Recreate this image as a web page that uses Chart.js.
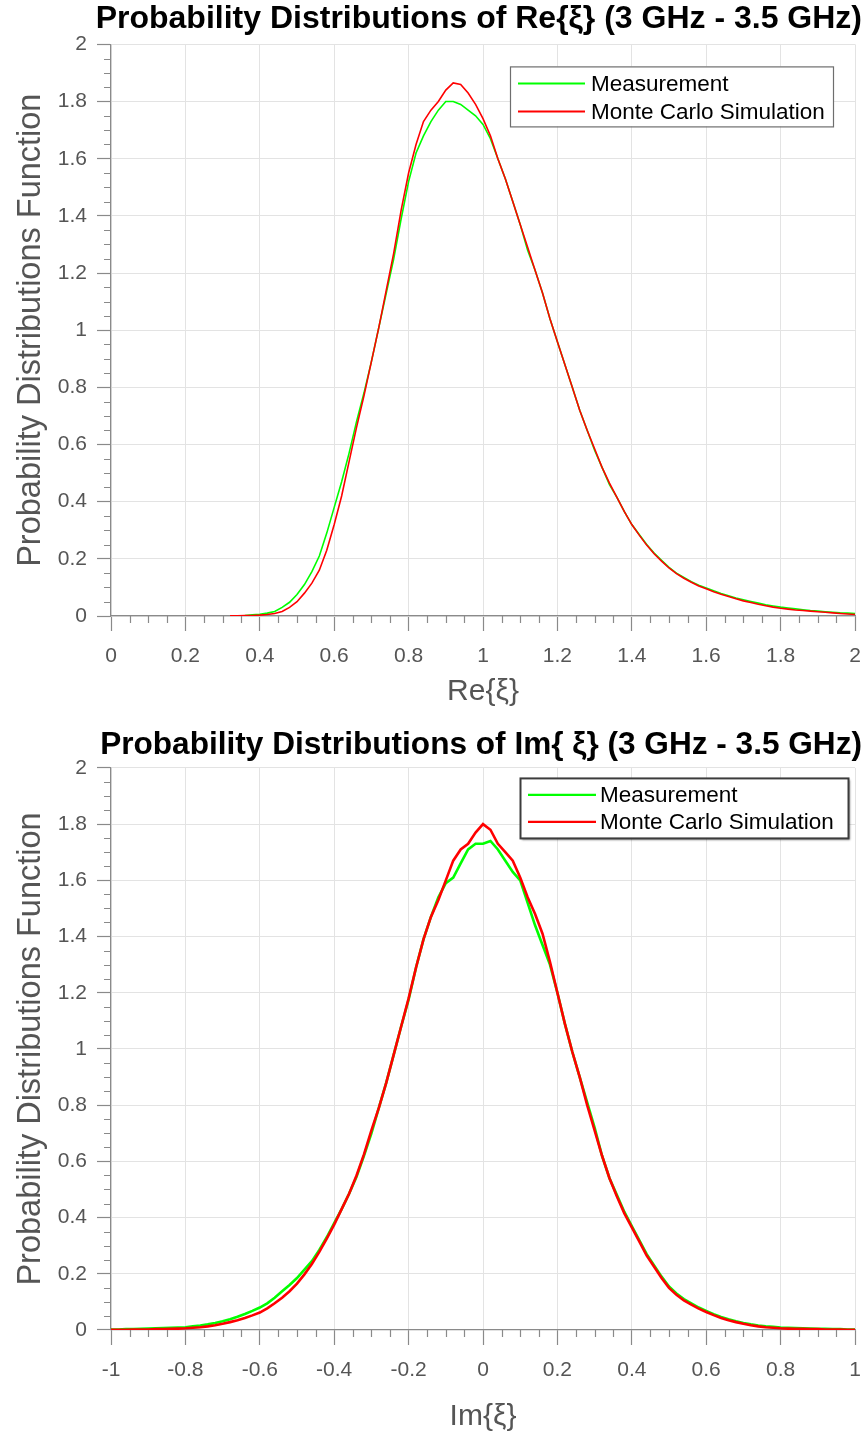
<!DOCTYPE html>
<html>
<head>
<meta charset="utf-8">
<script src="https://cdn.jsdelivr.net/npm/chart.js@4.4.1/dist/chart.umd.min.js"></script>
<style>
  html, body { margin: 0; padding: 0; background: #ffffff; }
  .wrap { width: 867px; position: relative; }
  canvas { display: block; }
</style>
</head>
<body>
<div class="wrap"><canvas id="reChart" width="867" height="718"></canvas></div>
<div class="wrap"><canvas id="imChart" width="867" height="719"></canvas></div>
<script>
// ---------- Data ----------
const seriesLabels = ['Measurement', 'Monte Carlo Simulation'];

// Re{xi}: x grid and the two density curves
const reX = [
  0.32,0.34,0.36,0.38,0.40,0.42,0.44,0.46,0.48,0.50,
  0.52,0.54,0.56,0.58,0.60,0.62,0.64,0.66,0.68,0.70,
  0.72,0.74,0.76,0.78,0.80,0.82,0.84,0.86,0.88,0.90,
  0.92,0.94,0.96,0.98,1.00,1.02,1.04,1.06,1.08,1.10,
  1.12,1.14,1.16,1.18,1.20,1.22,1.24,1.26,1.28,1.30,
  1.32,1.34,1.36,1.38,1.40,1.42,1.44,1.46,1.48,1.50,
  1.52,1.54,1.56,1.58,1.60,1.62,1.64,1.66,1.68,1.70,
  1.72,1.74,1.76,1.78,1.80,1.82,1.84,1.86,1.88,1.90,
  1.92,1.94,1.96,1.98,2.00
];
const reMeasurement = [
  null,null,0.002,0.004,0.006,0.010,0.016,0.030,0.048,0.075,
  0.110,0.155,0.210,0.290,0.380,0.470,0.570,0.680,0.780,0.890,
  1.010,1.130,1.250,1.390,1.520,1.620,1.680,1.730,1.770,1.800,
  1.800,1.790,1.770,1.750,1.720,1.670,1.600,1.530,1.450,1.370,
  1.280,1.210,1.130,1.040,0.960,0.880,0.800,0.720,0.650,0.580,
  0.520,0.460,0.415,0.365,0.320,0.285,0.250,0.220,0.195,0.170,
  0.150,0.135,0.120,0.108,0.098,0.088,0.079,0.071,0.063,0.057,
  0.051,0.045,0.039,0.035,0.031,0.028,0.025,0.022,0.019,0.017,
  0.015,0.013,0.011,0.010,0.009
];
const reSimulation = [
  0.001,0.001,0.002,0.002,0.003,0.005,0.009,0.016,0.030,0.050,
  0.080,0.115,0.160,0.230,0.320,0.420,0.540,0.660,0.770,0.890,
  1.010,1.140,1.270,1.420,1.550,1.650,1.730,1.770,1.800,1.840,
  1.865,1.860,1.830,1.790,1.740,1.680,1.600,1.530,1.450,1.370,
  1.290,1.210,1.130,1.040,0.960,0.880,0.800,0.720,0.650,0.585,
  0.520,0.465,0.415,0.365,0.320,0.283,0.248,0.218,0.192,0.168,
  0.148,0.132,0.118,0.105,0.095,0.085,0.076,0.068,0.060,0.053,
  0.047,0.041,0.036,0.031,0.027,0.024,0.021,0.019,0.017,0.015,
  0.013,0.011,0.009,0.007,0.005
];

// Im{xi}: x grid and the two density curves
const imX = [
  -1.00,-0.98,-0.96,-0.94,-0.92,-0.90,-0.88,-0.86,-0.84,-0.82,
  -0.80,-0.78,-0.76,-0.74,-0.72,-0.70,-0.68,-0.66,-0.64,-0.62,
  -0.60,-0.58,-0.56,-0.54,-0.52,-0.50,-0.48,-0.46,-0.44,-0.42,
  -0.40,-0.38,-0.36,-0.34,-0.32,-0.30,-0.28,-0.26,-0.24,-0.22,
  -0.20,-0.18,-0.16,-0.14,-0.12,-0.10,-0.08,-0.06,-0.04,-0.02,
   0.00, 0.02, 0.04, 0.06, 0.08, 0.10, 0.12, 0.14, 0.16, 0.18,
   0.20, 0.22, 0.24, 0.26, 0.28, 0.30, 0.32, 0.34, 0.36, 0.38,
   0.40, 0.42, 0.44, 0.46, 0.48, 0.50, 0.52, 0.54, 0.56, 0.58,
   0.60, 0.62, 0.64, 0.66, 0.68, 0.70, 0.72, 0.74, 0.76, 0.78,
   0.80, 0.82, 0.84, 0.86, 0.88, 0.90, 0.92, 0.94, 0.96, 0.98,
   1.00
];
const imMeasurement = [
  0.002,0.002,0.003,0.003,0.004,0.005,0.006,0.007,0.008,0.009,
  0.010,0.013,0.016,0.020,0.025,0.031,0.038,0.047,0.057,0.068,
  0.080,0.095,0.115,0.138,0.160,0.185,0.215,0.245,0.285,0.330,
  0.380,0.430,0.485,0.545,0.620,0.700,0.790,0.880,0.980,1.080,
  1.175,1.290,1.390,1.470,1.540,1.590,1.610,1.660,1.710,1.730,
  1.730,1.740,1.710,1.670,1.630,1.600,1.520,1.440,1.370,1.300,
  1.200,1.090,0.990,0.900,0.810,0.720,0.620,0.540,0.480,0.420,
  0.370,0.320,0.270,0.230,0.190,0.155,0.130,0.110,0.095,0.080,
  0.068,0.056,0.046,0.038,0.031,0.025,0.020,0.016,0.013,0.011,
  0.009,0.008,0.007,0.006,0.005,0.004,0.004,0.003,0.003,0.002,
  0.002
];
const imSimulation = [
  0.001,0.001,0.001,0.002,0.002,0.002,0.003,0.003,0.004,0.005,
  0.006,0.008,0.010,0.013,0.017,0.022,0.028,0.035,0.043,0.052,
  0.062,0.077,0.095,0.115,0.138,0.165,0.198,0.235,0.278,0.325,
  0.375,0.430,0.485,0.550,0.625,0.710,0.790,0.880,0.980,1.080,
  1.180,1.290,1.390,1.470,1.530,1.600,1.670,1.710,1.730,1.770,
  1.800,1.780,1.730,1.700,1.670,1.610,1.540,1.480,1.410,1.310,
  1.200,1.090,0.990,0.900,0.800,0.710,0.620,0.540,0.475,0.415,
  0.365,0.315,0.265,0.225,0.185,0.150,0.125,0.105,0.090,0.076,
  0.064,0.053,0.043,0.035,0.028,0.022,0.017,0.013,0.010,0.008,
  0.006,0.005,0.004,0.004,0.003,0.003,0.002,0.002,0.002,0.001,
  0.001
];

// ---------- Styling ----------
const FONT = "'Liberation Sans', Arial, Helvetica, sans-serif";
Chart.defaults.font.family = FONT;
const GREEN = '#00ff00';
const RED = '#ff0000';
const AXIS_GRAY = '#8a8a8a';
const GRID_GRAY = '#e3e3e3';
const LABEL_GRAY = '#555555';

function fmt(v) { const r = Math.round(v * 10) / 10; return String(r === 0 ? 0 : r); }

function pairs(xs, ys) { return xs.map((x, i) => ({ x: x, y: ys[i] })); }

// minor ticks drawn through the chart's scales
const minorTicks = {
  id: 'minorTicks',
  afterDraw(chart, args, opts) {
    const ctx = chart.ctx;
    const xs = chart.scales.x, ys = chart.scales.y;
    const step = opts.step, major = opts.major;
    const isMajor = v => Math.abs(v / major - Math.round(v / major)) < 1e-6;
    ctx.save();
    ctx.strokeStyle = opts.color;
    ctx.lineWidth = opts.width;
    ctx.beginPath();
    const kx0 = Math.round(xs.min / step), kx1 = Math.round(xs.max / step);
    for (let k = kx0; k <= kx1; k++) {
      const v = k * step; if (isMajor(v)) continue;
      const px = Math.round(xs.getPixelForValue(v)) + 0.5;
      ctx.moveTo(px, xs.top); ctx.lineTo(px, xs.top + opts.len);
    }
    const ky0 = Math.round(ys.min / step), ky1 = Math.round(ys.max / step);
    for (let k = ky0; k <= ky1; k++) {
      const v = k * step; if (isMajor(v)) continue;
      const py = Math.round(ys.getPixelForValue(v)) + 0.5;
      ctx.moveTo(ys.right - opts.len, py); ctx.lineTo(ys.right, py);
    }
    ctx.stroke();
    ctx.restore();
  }
};

// legend box drawn inside the plot area
const insideLegend = {
  id: 'insideLegend',
  afterDatasetsDraw(chart, args, o) {
    const ctx = chart.ctx, area = chart.chartArea;
    const x = area.right - o.right - o.width, y = area.top + o.top;
    ctx.save();
    if (o.shadow) {
      ctx.shadowColor = 'rgba(0,0,0,0.45)';
      ctx.shadowOffsetX = 2; ctx.shadowOffsetY = 2; ctx.shadowBlur = 2;
    }
    ctx.fillStyle = '#ffffff';
    ctx.fillRect(x, y, o.width, o.height);
    ctx.shadowColor = 'transparent';
    ctx.strokeStyle = o.borderColor;
    ctx.lineWidth = o.borderWidth;
    ctx.strokeRect(x + 0.5, y + 0.5, o.width, o.height);
    ctx.font = o.fontSize + 'px ' + FONT;
    ctx.textBaseline = 'middle';
    ctx.textAlign = 'left';
    chart.data.datasets.forEach((ds, i) => {
      const cy = y + o.rowTop + i * o.rowGap;
      ctx.strokeStyle = ds.borderColor;
      ctx.lineWidth = o.sampleWidth;
      ctx.beginPath();
      ctx.moveTo(x + o.lineStart, cy); ctx.lineTo(x + o.lineEnd, cy);
      ctx.stroke();
      ctx.fillStyle = '#000000';
      ctx.fillText(ds.label, x + o.textX, cy + 1);
    });
    ctx.restore();
  }
};

function buildChart(id, cfg) {
  return new Chart(document.getElementById(id), {
    type: 'line',
    data: {
      datasets: [
        { label: seriesLabels[0], data: pairs(cfg.x, cfg.meas), borderColor: GREEN, backgroundColor: GREEN,
          borderWidth: cfg.lineWidth, pointRadius: 0, tension: 0, fill: false, order: 1 },
        { label: seriesLabels[1], data: pairs(cfg.x, cfg.sim), borderColor: RED, backgroundColor: RED,
          borderWidth: cfg.lineWidth, pointRadius: 0, tension: 0, fill: false, order: 0 }
      ]
    },
    options: {
      responsive: false,
      animation: false,
      events: [],
      layout: { padding: { left: 0, right: 5, top: cfg.padTop, bottom: 0 } },
      plugins: {
        legend: { display: false },
        tooltip: { enabled: false },
        title: {
          display: true, text: cfg.title, color: '#000000', align: 'end',
          font: { size: cfg.titleSize, weight: 'bold', family: FONT, lineHeight: 1.2 },
          padding: { top: 0, bottom: cfg.titleGap }
        },
        minorTicks: { step: 0.05, major: 0.2, len: 7, color: AXIS_GRAY, width: 1.2 },
        insideLegend: cfg.legend
      },
      scales: {
        x: {
          type: 'linear', min: cfg.xMin, max: cfg.xMax,
          ticks: { stepSize: 0.2, autoSkip: false, maxRotation: 0, padding: 13, color: LABEL_GRAY,
                   font: { size: 21, family: FONT }, callback: v => fmt(v) },
          grid: { color: GRID_GRAY, lineWidth: 1, tickLength: 15, tickColor: AXIS_GRAY, tickWidth: 1.2 },
          border: { color: AXIS_GRAY, width: 1.2 },
          title: { display: true, text: cfg.xTitle, color: LABEL_GRAY,
                   font: { size: 30, family: FONT, lineHeight: 1.2 }, padding: { top: 0, bottom: cfg.xTitlePad } },
          afterFit: s => { s.height = cfg.xHeight; s.paddingRight = 12; s.paddingLeft = 0; }
        },
        y: {
          type: 'linear', min: 0, max: 2,
          ticks: { stepSize: 0.2, autoSkip: false, padding: 10, color: LABEL_GRAY,
                   font: { size: 21, family: FONT }, callback: v => fmt(v) },
          grid: { color: GRID_GRAY, lineWidth: 1, tickLength: 14, tickColor: AXIS_GRAY, tickWidth: 1.2 },
          border: { color: AXIS_GRAY, width: 1.2 },
          title: { display: true, text: 'Probability Distributions Function', color: LABEL_GRAY,
                   font: { size: 32.5, family: FONT, lineHeight: 1.2 }, padding: { top: 12, bottom: 0 } },
          afterFit: s => { s.width = 111; }
        }
      }
    },
    plugins: [minorTicks, insideLegend]
  });
}

buildChart('reChart', {
  x: reX, meas: reMeasurement, sim: reSimulation, lineWidth: 1.6,
  title: 'Probability Distributions of Re{ξ} (3 GHz - 3.5 GHz)', titleSize: 32,
  xTitle: 'Re{ξ}', xMin: 0, xMax: 2,
  padTop: 0, titleGap: 6, xHeight: 102, xTitlePad: 8,
  legend: { right: 22, top: 22, width: 323, height: 60, rowTop: 17, rowGap: 28,
            lineStart: 8, lineEnd: 75, textX: 81, fontSize: 22.5, sampleWidth: 2,
            borderColor: '#6e6e6e', borderWidth: 1.2, shadow: false }
});

buildChart('imChart', {
  x: imX, meas: imMeasurement, sim: imSimulation, lineWidth: 2.6,
  title: 'Probability Distributions of Im{ ξ} (3 GHz - 3.5 GHz)', titleSize: 31.6,
  xTitle: 'Im{ξ}', xMin: -1, xMax: 1,
  padTop: 8, titleGap: 4, xHeight: 107, xTitlePad: 2,
  legend: { right: 7, top: 10, width: 328, height: 60, rowTop: 17, rowGap: 27,
            lineStart: 8, lineEnd: 76, textX: 80, fontSize: 22.5, sampleWidth: 2.4,
            borderColor: '#3c3c3c', borderWidth: 2, shadow: true }
});
</script>
</body>
</html>
